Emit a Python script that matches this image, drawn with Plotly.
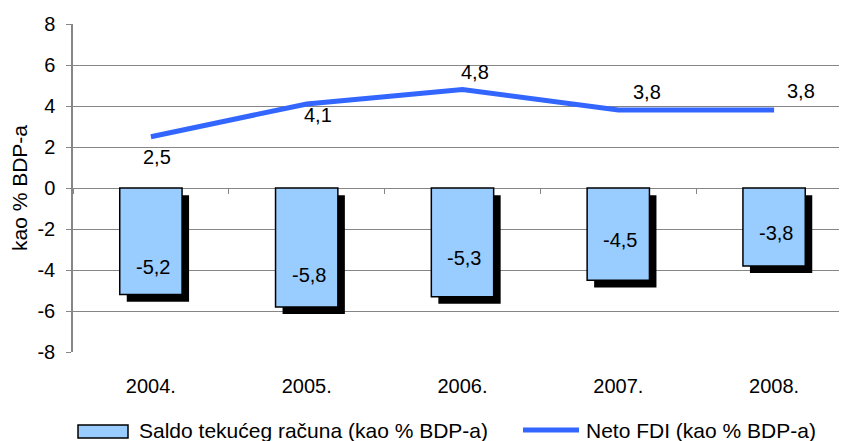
import plotly.graph_objects as go

# ---- data ----
years = ["2004.", "2005.", "2006.", "2007.", "2008."]
saldo = [-5.2, -5.8, -5.3, -4.5, -3.8]
fdi = [2.5, 4.1, 4.8, 3.8, 3.8]
y_ticks = [-8, -6, -4, -2, 0, 2, 4, 6, 8]
saldo_name = "Saldo tekućeg računa (kao % BDP-a)"
fdi_name = "Neto FDI (kao % BDP-a)"
y_title = "kao % BDP-a"

# ---- style ----
FONT = "Liberation Sans, Arial, sans-serif"
FS = 20
BAR_FILL = "#99CCFF"
LINE_COL = "#3366FF"
GRID = "#868686"
OFF = 8  # page body margin compensation
W, H = 847 - OFF, 441 - OFF
ML, MT, MB, MR = 73 - OFF, 24 - OFF, 89, 0
XR = [-0.5, 4.468]
BAR_W = 0.4
SH_DX = 0.045   # shadow offset (category units)
SH_DY = 0.35    # shadow offset (value units)
bar_label_frac = [0.74, 0.73, 0.64, 0.56, 0.58]
line_label_shift = [(6, -20), (11, -11), (13, 18), (29, 18), (27, 19)]

def fmt(v):
    return f"{v:.1f}".replace(".", ",")

fig = go.Figure()

# shadow
fig.add_trace(go.Bar(
    x=years, y=saldo, base=[-SH_DY] * len(saldo),
    width=BAR_W, offset=-BAR_W / 2 + SH_DX,
    marker=dict(color="black", line=dict(width=0)),
    showlegend=False, hoverinfo="skip"))
# bars
fig.add_trace(go.Bar(
    x=years, y=saldo, width=BAR_W, offset=-BAR_W / 2,
    marker=dict(color=BAR_FILL, line=dict(color="black", width=1.5)),
    name=saldo_name, showlegend=False))
# line
fig.add_trace(go.Scatter(
    x=years, y=fdi, mode="lines",
    line=dict(color=LINE_COL, width=5),
    name=fdi_name, showlegend=False))

# dummy trace for boundary ticks at y=0
fig.add_trace(go.Scatter(x=[None], y=[None], xaxis="x2", showlegend=False))

ann = []
for i, (v, fr) in enumerate(zip(saldo, bar_label_frac)):
    ann.append(dict(x=i, y=v * fr, xref="x", yref="y", text=fmt(v), showarrow=False, xshift=2,
                    font=dict(family=FONT, size=FS, color="black"),
                    xanchor="center", yanchor="middle"))
for i, (v, (dx, dy)) in enumerate(zip(fdi, line_label_shift)):
    ann.append(dict(x=i, y=v, xref="x", yref="y", text=fmt(v), showarrow=False,
                    xshift=dx, yshift=dy,
                    font=dict(family=FONT, size=FS, color="black"),
                    xanchor="center", yanchor="middle"))

pw = W - ML - MR
ph = H - MT - MB
def px(xp):
    return (xp - OFF - ML) / pw
def py(yp):
    return (H - MB - (yp - OFF)) / ph

# custom legend
shapes = [
    dict(type="rect", xref="paper", yref="paper",
         x0=px(78), x1=px(128), y0=py(438), y1=py(425),
         fillcolor=BAR_FILL, line=dict(color="black", width=1.5)),
    dict(type="line", xref="paper", yref="paper",
         x0=px(523), x1=px(579), y0=py(430), y1=py(430),
         line=dict(color=LINE_COL, width=5)),
]
ann.append(dict(xref="paper", yref="paper", x=px(137), y=py(431), text=saldo_name,
                showarrow=False, xanchor="left", yanchor="middle",
                font=dict(family=FONT, size=21, color="black")))
ann.append(dict(xref="paper", yref="paper", x=px(584), y=py(431), text=fdi_name,
                showarrow=False, xanchor="left", yanchor="middle",
                font=dict(family=FONT, size=21, color="black")))

fig.update_layout(
    width=W, height=H,
    margin=dict(l=ML, r=MR, t=MT, b=MB, pad=0),
    plot_bgcolor="white", paper_bgcolor="white",
    barmode="overlay",
    font=dict(family=FONT, size=FS, color="black"),
    xaxis=dict(type="category", categoryorder="array", categoryarray=years,
               range=XR, showgrid=False, zeroline=False, showline=False,
               ticks="", ticklabelstandoff=20,
               tickfont=dict(family=FONT, size=FS, color="black")),
    xaxis2=dict(overlaying="x", anchor="free", position=0.5, range=XR,
                tickmode="array", tickvals=[-0.5, 0.5, 1.5, 2.5, 3.5],
                ticks="outside", ticklen=5, tickcolor=GRID, tickwidth=1,
                showticklabels=False, showgrid=False, zeroline=False, showline=False),
    yaxis=dict(range=[-8, 8], tickvals=y_ticks, ticktext=[str(t) for t in y_ticks],
               showgrid=True, gridcolor=GRID, gridwidth=1,
               zeroline=False, showline=True, linecolor=GRID, linewidth=1.5,
               ticks="outside", ticklen=5, tickcolor=GRID,
               ticklabelstandoff=7,
               tickfont=dict(family=FONT, size=FS, color="black"),
               title=dict(text=y_title, standoff=6,
                          font=dict(family=FONT, size=21, color="black"))),
    annotations=ann, shapes=shapes,
)

fig.write_html("out.html")
